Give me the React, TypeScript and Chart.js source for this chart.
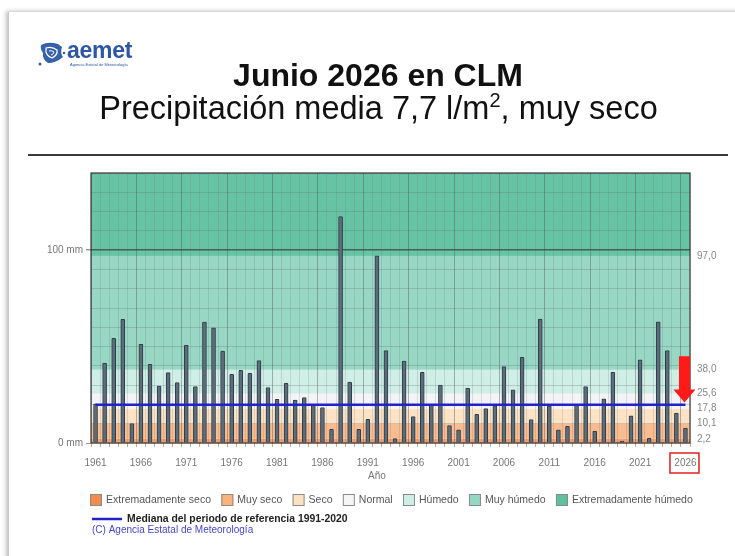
import React, { useEffect, useRef } from "react";
import { Chart, registerables } from "chart.js";

Chart.register(...registerables);

const YEARS = [
  "1961","1962","1963","1964","1965","1966","1967","1968","1969","1970",
  "1971","1972","1973","1974","1975","1976","1977","1978","1979","1980",
  "1981","1982","1983","1984","1985","1986","1987","1988","1989","1990",
  "1991","1992","1993","1994","1995","1996","1997","1998","1999","2000",
  "2001","2002","2003","2004","2005","2006","2007","2008","2009","2010",
  "2011","2012","2013","2014","2015","2016","2017","2018","2019","2020",
  "2021","2022","2023","2024","2025","2026",
];

const PRECIP = [
  20.3, 41.5, 54.3, 64.1, 10.1, 51.2, 40.8, 29.5, 36.5, 31.3,
  50.7, 29.2, 62.7, 59.7, 47.7, 35.6, 37.7, 36.1, 42.7, 28.8,
  22.7, 30.9, 22.2, 23.6, 19.5, 18.4, 7.1, 117.4, 31.6, 7.1,
  12.3, 97.0, 47.9, 2.3, 42.5, 13.7, 36.6, 20.0, 30.0, 9.0,
  6.8, 28.5, 14.9, 17.9, 19.3, 39.6, 27.6, 44.4, 12.2, 64.2,
  19.3, 6.8, 8.7, 19.6, 29.3, 6.1, 22.9, 36.6, 1.0, 14.1,
  43.1, 2.4, 62.8, 47.9, 15.5, 7.7,
];

const THRESHOLDS = [2.2, 10.1, 17.8, 25.6, 38.0, 97.0];
const MEDIAN = 19.8;
const Y_MAX = 140;

const CATEGORY_LABELS = [
  "Extremadamente seco", "Muy seco", "Seco", "Normal",
  "Húmedo", "Muy húmedo", "Extremadamente húmedo",
];
const BAND_COLORS = [
  "#f3a06c", "#f8bc90", "#fde3c6", "#f4f4f7", "#cfeee6", "#98d7c4", "#66c4a4",
];
const LEGEND_COLORS = [
  "#f28c4e", "#f9b37c", "#fde2c1", "#f6f6f6", "#cdeee5", "#94d8c3", "#5fc09c",
];

const FONT = "'Liberation Sans', Arial, sans-serif";

const fmt = (v: number) => v.toFixed(1).replace(".", ",");

const decor = {
  id: "aemetDecor",
  beforeDraw(chart: any) {
    const { ctx, chartArea: a, scales } = chart;
    const y = scales.y;
    const bounds = [0, ...THRESHOLDS, Y_MAX];
    ctx.save();
    for (let i = 0; i < BAND_COLORS.length; i++) {
      const top = y.getPixelForValue(bounds[i + 1]);
      const bot = y.getPixelForValue(bounds[i]);
      ctx.fillStyle = BAND_COLORS[i];
      ctx.fillRect(a.left, top, a.right - a.left, bot - top);
    }
    ctx.restore();
  },
  afterDatasetsDraw(chart: any) {
    const { ctx, chartArea: a, scales } = chart;
    const x = scales.x;
    const y = scales.y;
    ctx.save();
    const my = y.getPixelForValue(MEDIAN);
    ctx.strokeStyle = "#2222c8";
    ctx.lineWidth = 2.5;
    ctx.beginPath();
    ctx.moveTo(x.getPixelForValue(0), my);
    ctx.lineTo(x.getPixelForValue(YEARS.length - 1), my);
    ctx.stroke();
    ctx.strokeStyle = "#3a3a3a";
    ctx.lineWidth = 1.2;
    ctx.strokeRect(a.left, a.top, a.right - a.left, a.bottom - a.top);
    const ax = x.getPixelForValue(YEARS.length - 1) - 1;
    const topY = y.getPixelForValue(45);
    const tipY = y.getPixelForValue(MEDIAN + 1.2);
    const headY = tipY - 13;
    ctx.fillStyle = "#ff1a1a";
    ctx.beginPath();
    ctx.moveTo(ax - 5.5, topY);
    ctx.lineTo(ax + 5.5, topY);
    ctx.lineTo(ax + 5.5, headY);
    ctx.lineTo(ax + 11, headY);
    ctx.lineTo(ax, tipY);
    ctx.lineTo(ax - 11, headY);
    ctx.lineTo(ax - 5.5, headY);
    ctx.closePath();
    ctx.fill();
    ctx.restore();
  },
  afterDraw(chart: any) {
    const { ctx, chartArea: a, scales } = chart;
    const x = scales.x;
    ctx.save();
    const lx = x.getPixelForValue(YEARS.length - 1) - 1;
    ctx.strokeStyle = "#e02020";
    ctx.lineWidth = 1.5;
    ctx.strokeRect(lx - 14.5, a.bottom + 10, 29, 20);
    ctx.fillStyle = "#777";
    ctx.font = `10px ${FONT}`;
    ctx.textAlign = "center";
    ctx.textBaseline = "middle";
    ctx.fillText("Año", 377, a.bottom + 33);
    ctx.textAlign = "left";
    ctx.font = `10.5px ${FONT}`;
    let cx = 90;
    const ly = 500;
    for (let i = 0; i < CATEGORY_LABELS.length; i++) {
      ctx.fillStyle = LEGEND_COLORS[i];
      ctx.fillRect(cx, ly - 6, 12, 12);
      ctx.strokeStyle = "#8a8a8a";
      ctx.lineWidth = 1;
      ctx.strokeRect(cx + 0.5, ly - 5.5, 11, 11);
      ctx.fillStyle = "#555";
      ctx.fillText(CATEGORY_LABELS[i], cx + 16, ly + 0.5);
      cx += 16 + ctx.measureText(CATEGORY_LABELS[i]).width + 10.3;
    }
    ctx.strokeStyle = "#2222c8";
    ctx.lineWidth = 2.5;
    ctx.beginPath();
    ctx.moveTo(92, 519);
    ctx.lineTo(122, 519);
    ctx.stroke();
    ctx.fillStyle = "#222";
    ctx.font = `bold 10.4px ${FONT}`;
    ctx.fillText("Mediana del periodo de referencia 1991-2020", 127, 519);
    ctx.fillStyle = "#4646c8";
    ctx.font = `10px ${FONT}`;
    ctx.fillText("(C) Agencia Estatal de Meteorología", 92, 530);
    ctx.restore();
  },
};

function Logo() {
  return (
    <div style={{ position: "absolute", left: 38, top: 41, width: 110, height: 30 }}>
      <svg width="28" height="26" viewBox="0 0 28 26" style={{ position: "absolute", left: 0, top: 0 }}>
        <path d="M3 4 Q10 0 20 3 L24 6 Q22 12 25 16 Q18 22 10 22 Q4 18 5 12 Q2 8 3 4 Z" fill="#3561a8" />
        <path d="M8 7 Q14 5 19 9 Q20 14 14 17 Q9 15 8 11 Z" fill="none" stroke="#fff" strokeWidth="1.2" />
        <path d="M11 10 Q14 9 16 11 Q15 14 13 14" fill="none" stroke="#fff" strokeWidth="1" />
        <circle cx="2" cy="23" r="1.5" fill="#3561a8" />
        <circle cx="26" cy="12" r="1.3" fill="#3561a8" />
      </svg>
      <div
        style={{
          position: "absolute", left: 29, top: -3, fontFamily: FONT, fontWeight: 700,
          fontSize: 23, color: "#2d56a3", letterSpacing: -0.3, lineHeight: "24px",
        }}
      >
        aemet
      </div>
      <div
        style={{
          position: "absolute", left: 32, top: 21, fontFamily: FONT, fontSize: 4,
          color: "#2d56a3", whiteSpace: "nowrap",
        }}
      >
        Agencia Estatal de Meteorología
      </div>
    </div>
  );
}

export default function App() {
  const ref = useRef<HTMLCanvasElement | null>(null);

  useEffect(() => {
    if (!ref.current) return;
    Chart.defaults.font.family = FONT;
    const chart = new Chart(ref.current, {
      type: "bar",
      data: {
        labels: YEARS,
        datasets: [
          {
            data: PRECIP,
            backgroundColor: "#5b6c7a",
            borderColor: "#2f3b46",
            borderWidth: 1,
            barThickness: 4,
            borderRadius: 1,
            borderSkipped: "bottom",
            yAxisID: "y",
          },
        ],
      },
      options: {
        responsive: false,
        animation: false,
        devicePixelRatio: 1,
        layout: { padding: { top: 173, left: 0, right: 0, bottom: 0 } },
        plugins: { legend: { display: false }, tooltip: { enabled: false }, title: { display: false } },
        scales: {
          x: {
            type: "category",
            offset: true,
            afterFit: (s: any) => { s.height = 113; },
            grid: {
              offset: true,
              color: (c: any) => (c.index % 5 === 0 ? "rgba(80,80,80,0.42)" : "rgba(110,110,110,0.2)"),
              lineWidth: 1,
              tickLength: 4,
              tickColor: "rgba(190,160,140,0.9)",
            },
            border: { display: false },
            ticks: {
              autoSkip: false,
              maxRotation: 0,
              minRotation: 0,
              padding: 10,
              color: "#777",
              font: { size: 10 },
              callback: (_v: any, i: number) => (i % 5 === 0 ? YEARS[i] : ""),
            },
          },
          y: {
            position: "left",
            min: 0,
            max: Y_MAX,
            afterFit: (s: any) => { s.width = 91; },
            grid: {
              color: (c: any) => (c.tick && c.tick.value === 100 ? "rgba(60,60,60,0.75)" : "rgba(100,100,100,0.27)"),
              lineWidth: (c: any) => (c.tick && c.tick.value === 100 ? 1.5 : 1),
              tickLength: 5,
              tickColor: (c: any) => (c.tick && (c.tick.value === 100 || c.tick.value === 0) ? "#999" : "rgba(0,0,0,0)"),
            },
            border: { display: false },
            ticks: {
              stepSize: 10,
              padding: 3,
              color: "#777",
              font: { size: 10 },
              callback: (v: any) => (v === 0 ? "0 mm" : v === 100 ? "100 mm" : ""),
            },
          },
          y2: {
            position: "right",
            min: 0,
            max: Y_MAX,
            afterFit: (s: any) => { s.width = 45; },
            afterBuildTicks: (s: any) => { s.ticks = THRESHOLDS.map((v) => ({ value: v })); },
            grid: { display: false, drawTicks: false },
            border: { display: false },
            ticks: {
              padding: 7,
              color: "#888",
              font: { size: 10 },
              callback: (v: any) => fmt(Number(v)),
            },
          },
        },
      },
      plugins: [decor],
    } as any);
    return () => chart.destroy();
  }, []);

  return (
    <div style={{ position: "fixed", left: 0, top: 0, width: 735, height: 556, background: "#fff", overflow: "hidden" }}>
      <div
        style={{
          position: "absolute", left: 8, top: 12, width: 760, height: 600,
          boxShadow: "-2px -1px 4px rgba(0,0,0,0.25)", borderLeft: "1px solid #c8c8c8", background: "#fff",
        }}
      />
      <canvas ref={ref} width={735} height={556} style={{ position: "absolute", left: 0, top: 0, width: 735, height: 556 }} />
      <Logo />
      <div
        style={{
          position: "absolute", left: 0, width: 756, top: 57, textAlign: "center", fontFamily: FONT,
          fontWeight: 700, fontSize: 32, lineHeight: "36px", color: "#111",
        }}
      >
        Junio 2026 en CLM
      </div>
      <div
        style={{
          position: "absolute", left: 0, width: 757, top: 89, textAlign: "center", fontFamily: FONT,
          fontSize: 32.5, lineHeight: "38px", color: "#111",
        }}
      >
        Precipitación media 7,7 l/m<sup style={{ fontSize: 20, lineHeight: 0, verticalAlign: "super" }}>2</sup>, muy seco
      </div>
      <div style={{ position: "absolute", left: 28, top: 154, width: 700, height: 2, background: "#3a3a3a" }} />
    </div>
  );
}
